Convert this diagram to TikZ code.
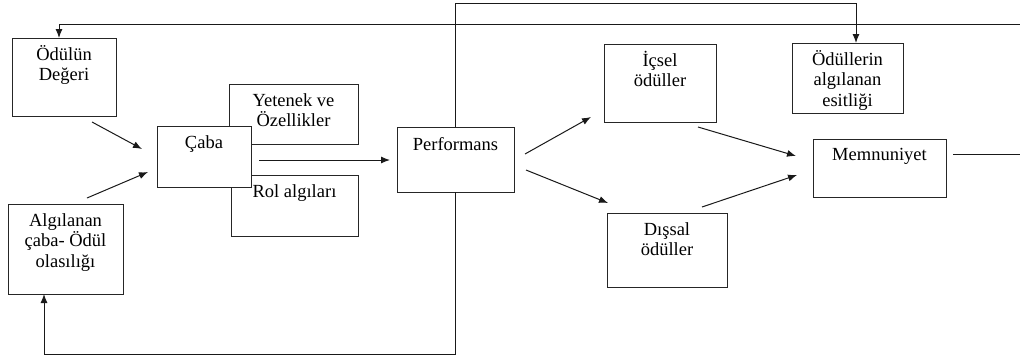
\documentclass[tikz,border=0pt]{standalone}
\usepackage{fontspec}
\setmainfont{Liberation Serif}
\usetikzlibrary{arrows.meta,calc}
\begin{document}
\begin{tikzpicture}[x=1pt,y=-1pt,
  box/.style={draw=black!85,line width=1pt,fill=white,inner sep=0pt,outer sep=0pt},
  lbl/.style={anchor=north,inner sep=0pt,align=center,font=\fontsize{18.5}{20.5}\selectfont},
  conn/.style={draw=black!90,line width=1pt},
  arr/.style={conn,-{Latex[length=9pt,width=7pt]}}]
\useasboundingbox (0,0) rectangle (1020,360);
\newcommand{\fs}{\rule{0pt}{17pt}}
% boxes
\node[box,minimum width=104,minimum height=78] (odv) at (64,77) {};
\node[box,minimum width=115,minimum height=90] (alg) at (65.5,249) {};
\node[box,minimum width=129,minimum height=60] (yet) at (293.5,114) {};
\node[box,minimum width=127,minimum height=61] (rol) at (294.5,205.5) {};
\node[box,minimum width=94,minimum height=61] (caba) at (204,156.5) {};
\node[box,minimum width=117,minimum height=65] (perf) at (455.5,159.5) {};
\node[box,minimum width=112,minimum height=78] (icsel) at (660,83) {};
\node[box,minimum width=120,minimum height=74] (dis) at (667,250) {};
\node[box,minimum width=111,minimum height=70] (esit) at (847.5,78) {};
\node[box,minimum width=133,minimum height=58] (mem) at (879.5,168) {};
% labels
\node[lbl] (odvT) at ($(odv.north)+(0,5)$) {\fs Ödülün\\Değeri};
\node[lbl] (algT) at ($(alg.north)+(0,5)$) {\fs Algılanan\\çaba- Ödül\\olasılığı};
\node[lbl] (yetT) at ($(yet.north)+(0,5)$) {\fs Yetenek ve\\Özellikler};
\node[lbl] (rolT) at ($(rol.north)+(0,5)$) {\fs Rol algıları};
\node[lbl] (cabaT) at ($(caba.north)+(0,5)$) {\fs Çaba};
\node[lbl] (perfT) at ($(perf.north)+(0,6)$) {\fs Performans};
\node[lbl] (icselT) at ($(icsel.north)+(0,5)$) {\fs İçsel\\ödüller};
\node[lbl] (disT) at ($(dis.north)+(0,5)$) {\fs Dışsal\\ödüller};
\node[lbl] (esitT) at ($(esit.north)+(0,5)$) {\fs Ödüllerin\\algılanan\\esitliği};
\node[lbl] (memT) at ($(mem.north)+(0,4)$) {\fs Memnuniyet};
% free ends
\coordinate (fbR) at (1020,24);
\coordinate (memR) at (1020,154);
% connectors
\draw[arr] ($(odv.south)+(28,6)$) -- ($(caba.west)+(-15,-7.5)$);
\draw[arr] ($(alg.north)+(21.5,-6)$) -- ($(caba.west)+(-9,15.5)$);
\draw[arr] ($(caba.east)+(8,3.5)$) -- ($(perf.west)+(-7,0.5)$);
\draw[arr] ($(perf.east)+(11,-5.5)$) -- ($(icsel.west)+(-13,34)$);
\draw[arr] ($(perf.east)+(12,10.5)$) -- ($(dis.north west)+(1,-10)$);
\draw[arr] ($(icsel.south east)+(-18,5)$) -- ($(mem.west)+(-17,-12)$);
\draw[arr] ($(dis.north east)+(-25,-6)$) -- ($(mem.west)+(-16,7)$);
\draw[conn] ($(mem.east)+(7,-14)$) -- (memR);
\draw[arr] (fbR) -| ($(odv.north)+(-5,0)$);
\draw[arr] (perf.north) -- ++(0,-124) -| ($(esit.north)+(8.5,0)$);
\draw[arr] (perf.south) -- ++(0,162) -| ($(alg.south)+(-21.5,0)$);
\end{tikzpicture}
\end{document}
